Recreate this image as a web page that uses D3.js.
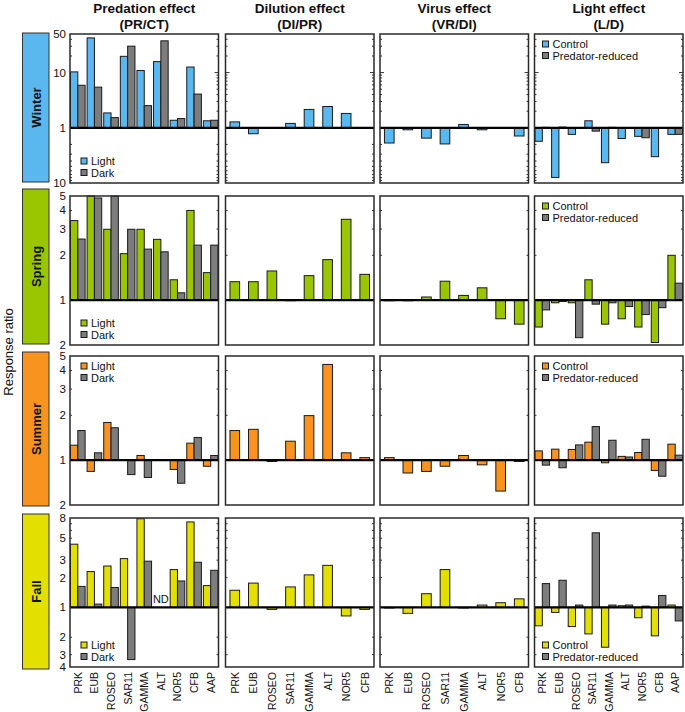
<!DOCTYPE html>
<html>
<head>
<meta charset="utf-8">
<script src="https://cdn.jsdelivr.net/npm/d3@7"></script>
<style>
  body { margin: 0; background: #fff; }
  svg text { font-family: "Liberation Sans", Arial, sans-serif; fill: #111; }
</style>
</head>
<body>
<div id="chart"></div>
<script>
// categories
var cats9 = ["PRK", "EUB", "ROSEO", "SAR11", "GAMMA", "ALT", "NOR5", "CFB", "AAP"];
var cats8 = ["PRK", "EUB", "ROSEO", "SAR11", "GAMMA", "ALT", "NOR5", "CFB"];

var seasons = ["Winter", "Spring", "Summer", "Fall"];
var seasonColors = ["#5bb8ef", "#99c600", "#f7931e", "#e3e000"];
var darkColor = "#7d7d7d";

var colTitles = [["Predation effect", "(PR/CT)"], ["Dilution effect", "(DI/PR)"],
                 ["Virus effect", "(VR/DI)"], ["Light effect", "(L/D)"]];

// y domains and tick labels (values < 1 are drawn as their reciprocal)
var yDomains = [[0.1, 50], [0.5, 5], [0.5, 5], [0.25, 8]];
var yTickLabels = [[50, 10, 1, 0.1], [5, 4, 3, 2, 1, 0.5], [5, 4, 3, 2, 1, 0.5], [8, 5, 3, 2, 1, 0.5, 1 / 3, 0.25]];

// Winter
var winPredLight = [10.3, 42.5, 1.86, 19.7, 10.9, 15.8, 1.37, 12.6, 1.34];
var winPredDark  = [5.9, 5.45, 1.53, 30.1, 2.52, 37.6, 1.47, 4.08, 1.37];
var winDil       = [1.28, 0.78, 1, 1.2, 2.15, 2.43, 1.82, 1];
var winVir       = [0.53, 0.92, 0.65, 0.51, 1.15, 0.92, 1.01, 0.71];
var winLightCtrl = [0.57, 0.126, 0.76, 1.34, 0.233, 0.64, 0.70, 0.30, 0.76];
var winLightPred = [1.02, 1.03, 1, 0.87, 1.02, 1, 0.66, 1, 0.76];

// Spring
var sprPredLight = [3.42, 5.0, 2.99, 2.05, 2.99, 2.56, 1.37, 4.0, 1.53];
var sprPredDark  = [2.57, 4.85, 5.0, 2.99, 2.2, 2.11, 1.12, 2.34, 2.34];
var sprDil       = [1.33, 1.33, 1.57, 1, 1.46, 1.87, 3.49, 1.49];
var sprVir       = [1, 1, 1.05, 1.34, 1.076, 1.21, 0.75, 0.69];
var sprLightCtrl = [0.66, 0.96, 0.96, 1.37, 0.69, 0.75, 0.66, 0.52, 2.0];
var sprLightPred = [0.86, 0.98, 0.56, 0.94, 0.96, 0.906, 0.80, 0.89, 1.30];

// Summer
var sumPredLight = [1.26, 0.84, 1.79, 1.01, 1.075, null, 0.866, 1.30, 0.91];
var sumPredDark  = [1.58, 1.12, 1.65, 0.80, 0.765, null, 0.70, 1.42, 1.075];
var sumDil       = [1.58, 1.61, 0.98, 1.34, 1.99, 4.39, 1.12, 1.04];
var sumVir       = [1.04, 0.82, 0.84, 0.91, 1.075, 0.93, 0.62, 0.98];
var sumLightCtrl = [1.154, 1.185, 1.18, 1.32, 0.96, 1.06, 1.125, 0.853, 1.28];
var sumLightPred = [0.926, 0.889, 1.266, 1.68, 1.36, 1.05, 1.38, 0.78, 1.08];

// Fall
var fallPredLight = [4.35, 2.3, 2.62, 3.11, 7.86, null, 2.41, 7.3, 1.66];
var fallPredDark  = [1.63, 1.08, 1.59, 0.297, 2.93, null, 1.85, 2.86, 2.37];
var fallDil       = [1.49, 1.76, 0.955, 1.61, 2.13, 2.66, 0.82, 0.955];
var fallVir       = [1, 0.87, 1.375, 2.41, 1, 1.056, 1.115, 1.22];
var fallLightCtrl = [0.652, 0.89, 0.64, 0.54, 0.396, 1.04, 0.786, 0.516, 1.056];
var fallLightPred = [1.74, 1.88, 1.056, 5.67, 1.056, 1.056, 1.03, 1.32, 0.73];

var pairData = [
    [[winPredLight, winPredDark], [winLightCtrl, winLightPred]],
    [[sprPredLight, sprPredDark], [sprLightCtrl, sprLightPred]],
    [[sumPredLight, sumPredDark], [sumLightCtrl, sumLightPred]],
    [[fallPredLight, fallPredDark], [fallLightCtrl, fallLightPred]]
];
var singleData = [
    [winDil, winVir], [sprDil, sprVir], [sumDil, sumVir], [fallDil, fallVir]
];

// layout
var W = 685, H = 712;
var colX = [70, 225.5, 380, 534.5], panelW = 148.5;
var rowY = [34, 196, 356, 518], panelH = 149;
var boxY = [[33, 182], [189, 344], [352, 506], [514, 669]];
// legend position per row for column 1 and column 4
var legPosPred = ["bottom", "bottom", "top", "bottom"];
var legPosLight = ["top", "top", "top", "bottom"];

var svg = d3.select("#chart").append("svg")
    .attr("width", W)
    .attr("height", H);

// column titles
colTitles.forEach(function (t, c) {
    var cx = colX[c] + panelW / 2;
    svg.append("text").attr("x", cx).attr("y", 13).attr("text-anchor", "middle")
        .attr("font-size", 13.5).attr("font-weight", "bold").text(t[0]);
    svg.append("text").attr("x", cx).attr("y", 29).attr("text-anchor", "middle")
        .attr("font-size", 13.5).attr("font-weight", "bold").text(t[1]);
});

// y axis title
svg.append("text")
    .attr("transform", "translate(13,352) rotate(-90)")
    .attr("text-anchor", "middle")
    .attr("font-size", 13)
    .text("Response ratio");

function tickValues(dom) {
    var out = [];
    [1, 10, 100].forEach(function (dec) {
        for (var k = 1; k < 10; k++) {
            var v = k * dec;
            if (v <= dom[1] + 1e-9) out.push({v: v, major: k === 1});
            var r = 1 / v;
            if (v > 1 && r >= dom[0] - 1e-9) out.push({v: r, major: k === 1});
        }
    });
    return out;
}

seasons.forEach(function (season, r) {
    var top = rowY[r], bottom = top + panelH;
    var color = seasonColors[r];
    var y = d3.scaleLog().domain(yDomains[r]).range([bottom, top]);

    // season box
    svg.append("rect")
        .attr("x", 22.5).attr("y", boxY[r][0])
        .attr("width", 26.5).attr("height", boxY[r][1] - boxY[r][0])
        .attr("fill", color).attr("stroke", "#333").attr("stroke-width", 1);
    svg.append("text")
        .attr("transform", "translate(40.5," + (boxY[r][0] + boxY[r][1]) / 2 + ") rotate(-90)")
        .attr("text-anchor", "middle")
        .attr("font-size", 13).attr("font-weight", "bold")
        .text(season);

    // y tick labels
    yTickLabels[r].forEach(function (v) {
        svg.append("text")
            .attr("x", 66).attr("y", y(v) + 4)
            .attr("text-anchor", "end")
            .attr("font-size", 11.5)
            .text(Math.round(v >= 1 ? v : 1 / v));
    });

    for (var c = 0; c < 4; c++) {
        var left = colX[c];
        var g = svg.append("g");
        var isPair = (c === 0 || c === 3);
        var cats = isPair ? cats9 : cats8;
        var x0 = d3.scaleBand().domain(cats).range([left, left + panelW]);
        if (isPair) x0.paddingInner(0.12).paddingOuter(0.03);
        else x0.paddingInner(0.48).paddingOuter(0.24);

        g.append("rect")
            .attr("x", left).attr("y", top)
            .attr("width", panelW).attr("height", panelH)
            .attr("fill", "#fff");

        // minor/major ticks on both sides (inward)
        var ticks = tickValues(yDomains[r]).filter(function (t) {
            return y(t.v) > top + 0.5 && y(t.v) < bottom - 0.5 && t.v !== 1;
        });
        ticks.forEach(function (t) {
            var len = t.major ? 4 : 2;
            var yy = y(t.v);
            g.append("line").attr("x1", left).attr("x2", left + len)
                .attr("y1", yy).attr("y2", yy).attr("stroke", "#333").attr("stroke-width", 1);
            g.append("line").attr("x1", left + panelW).attr("x2", left + panelW - len)
                .attr("y1", yy).attr("y2", yy).attr("stroke", "#333").attr("stroke-width", 1);
        });

        var series, fills;
        if (isPair) {
            series = pairData[r][c === 0 ? 0 : 1];
            fills = [color, darkColor];
        } else {
            series = [singleData[r][c - 1]];
            fills = [color];
        }
        var x1 = d3.scaleBand().domain(d3.range(series.length)).range([0, x0.bandwidth()]);

        series.forEach(function (vals, s) {
            g.selectAll(".bar" + s)
                .data(vals.map(function (v, i) { return {cat: cats[i], v: v}; })
                    .filter(function (d) { return d.v !== null; }))
                .enter().append("rect")
                .attr("x", function (d) { return x0(d.cat) + x1(s); })
                .attr("width", x1.bandwidth())
                .attr("y", function (d) { return y(Math.max(d.v, 1)); })
                .attr("height", function (d) { return Math.max(Math.abs(y(d.v) - y(1)), 0.6); })
                .attr("fill", fills[s])
                .attr("stroke", "#1a1a1a")
                .attr("stroke-width", 1);
        });

        // baseline at 1
        g.append("line")
            .attr("x1", left).attr("x2", left + panelW)
            .attr("y1", y(1)).attr("y2", y(1))
            .attr("stroke", "#000").attr("stroke-width", 2.2);

        // frame
        g.append("rect")
            .attr("x", left).attr("y", top)
            .attr("width", panelW).attr("height", panelH)
            .attr("fill", "none").attr("stroke", "#2a2a2a").attr("stroke-width", 1.5);

        // legends
        if (isPair) {
            var names = c === 0 ? ["Light", "Dark"] : ["Control", "Predator-reduced"];
            var pos = c === 0 ? legPosPred[r] : legPosLight[r];
            var lx = c === 0 ? left + 11 : left + 8;
            var ly = pos === "top" ? top + 10 : bottom - 22;
            names.forEach(function (nm, k) {
                var yy = ly + k * 11.5;
                g.append("rect").attr("x", lx).attr("y", yy - 3)
                    .attr("width", 6).attr("height", 6)
                    .attr("fill", fills[k]).attr("stroke", "#1a1a1a").attr("stroke-width", 1);
                g.append("text").attr("x", lx + 10).attr("y", yy + 4)
                    .attr("font-size", 11).text(nm);
            });
        }

        // ND marker
        if (c === 0 && r === 3) {
            pairData[r][0][0].forEach(function (v, i) {
                if (v === null && pairData[r][0][1][i] === null) {
                    g.append("text")
                        .attr("x", x0(cats[i]) + x0.bandwidth() / 2)
                        .attr("y", y(1) - 4)
                        .attr("text-anchor", "middle")
                        .attr("font-size", 11).text("ND");
                }
            });
        }

        // x labels on bottom row
        if (r === 3) {
            cats.forEach(function (cat) {
                var cx = x0(cat) + x0.bandwidth() / 2;
                svg.append("text")
                    .attr("transform", "translate(" + (cx + 4) + "," + (bottom + 5) + ") rotate(-90)")
                    .attr("text-anchor", "end")
                    .attr("font-size", 10.5)
                    .text(cat);
            });
        }
    }
});
</script>
</body>
</html>
